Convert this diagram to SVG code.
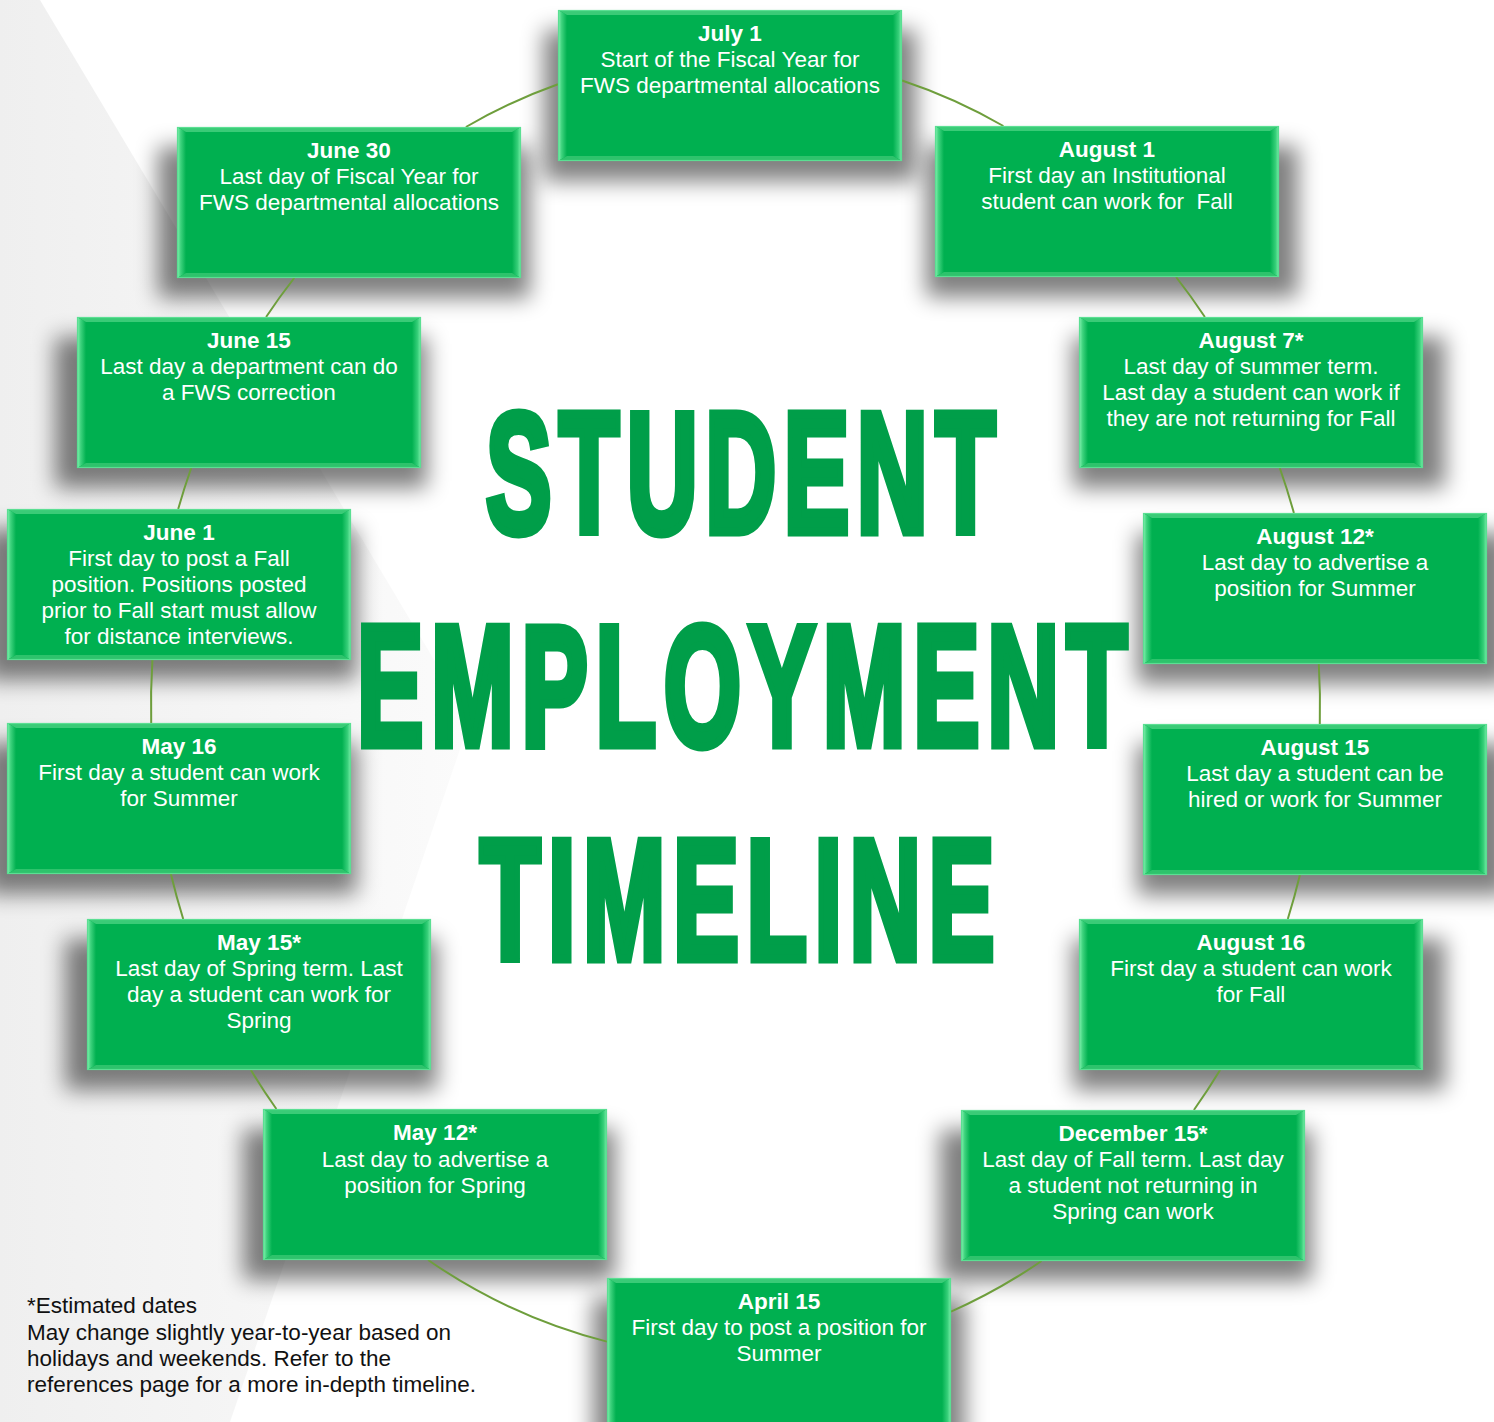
<svg xmlns="http://www.w3.org/2000/svg" xmlns:xlink="http://www.w3.org/1999/xlink" width="1494" height="1422" viewBox="0 0 1494 1422">
<style>
.tx{font-family:"Liberation Sans",Arial,sans-serif;font-size:22.5px;fill:#ffffff;text-anchor:middle}
.b{font-weight:bold}
.ttl{font-family:"Liberation Sans",Arial,sans-serif;font-weight:bold;font-size:170px;fill:#009E49;stroke:#009E49;stroke-width:9;stroke-linejoin:miter;letter-spacing:13px}
.ft{font-family:"Liberation Sans",Arial,sans-serif;font-size:22.5px;fill:#111111}
.sh{fill:#000000;opacity:0.5;filter:url(#blur)}
.cn{fill:none;stroke:#6E9E3C;stroke-width:2}
</style>
<defs>
<filter id="blur" x="-20%" y="-40%" width="140%" height="180%"><feGaussianBlur stdDeviation="11"/></filter>
<linearGradient id="gL" x1="0" y1="0" x2="1" y2="0"><stop offset="0" stop-color="#8AF5B5"/><stop offset="0.4" stop-color="#3FD37E"/><stop offset="1" stop-color="#00B050"/></linearGradient>
<linearGradient id="gR" x1="1" y1="0" x2="0" y2="0"><stop offset="0" stop-color="#7CEFAA"/><stop offset="0.4" stop-color="#35CE78"/><stop offset="1" stop-color="#00B050"/></linearGradient>
<linearGradient id="bg" x1="0" y1="0" x2="1" y2="0"><stop offset="0" stop-color="#efefef"/><stop offset="1" stop-color="#fbfbfb"/></linearGradient>
<g id="box">
<rect x="0" y="0" width="344" height="151" fill="#00B050"/>
<polygon points="0,0 9,5 9,146 0,151" fill="url(#gL)"/>
<polygon points="344,0 335,5 335,146 344,151" fill="url(#gR)"/>
<polygon points="0,0 344,0 335,5 9,5" fill="#3ACB77"/>
<polygon points="0,151 9,146 335,146 344,151" fill="#2EC36C"/>
<rect x="0.5" y="0.5" width="343" height="150" fill="none" stroke="#5BDF93" stroke-width="1.2"/>
</g>
</defs>
<rect x="0" y="0" width="1494" height="1422" fill="#ffffff"/>
<g id="background">
<polygon points="0,0 40,0 470,720 230,1422 0,1422" fill="url(#bg)"/>
</g>
<g id="shadows">
<rect class="sh" x="544" y="30" width="372" height="151"/>
<rect class="sh" x="158" y="147" width="372" height="151"/>
<rect class="sh" x="926" y="146" width="372" height="151"/>
<rect class="sh" x="55" y="337" width="372" height="151"/>
<rect class="sh" x="1073" y="337" width="372" height="151"/>
<rect class="sh" x="-15" y="529" width="372" height="151"/>
<rect class="sh" x="1137" y="533" width="372" height="151"/>
<rect class="sh" x="-15" y="743" width="372" height="151"/>
<rect class="sh" x="1137" y="744" width="372" height="151"/>
<rect class="sh" x="65" y="939" width="372" height="151"/>
<rect class="sh" x="1073" y="939" width="372" height="151"/>
<rect class="sh" x="243" y="1129" width="372" height="151"/>
<rect class="sh" x="940" y="1130" width="372" height="151"/>
<rect class="sh" x="593" y="1298" width="372" height="151"/>
</g>
<g id="title">
<text class="ttl" x="486" y="532" textLength="517" lengthAdjust="spacingAndGlyphs">STUDENT</text>
<text class="ttl" x="357" y="745" textLength="778" lengthAdjust="spacingAndGlyphs">EMPLOYMENT</text>
<text class="ttl" x="480" y="959" textLength="522" lengthAdjust="spacingAndGlyphs">TIMELINE</text>
</g>
<g id="connectors">
<path class="cn" d="M607,1341.6 A584.5 652 0 0 1 428.1,1260"/>
<path class="cn" d="M276.4,1109 A584.5 652 0 0 1 250.9,1070"/>
<path class="cn" d="M183.2,919 A584.5 652 0 0 1 170.9,874"/>
<path class="cn" d="M151.2,723 A584.5 652 0 0 1 152.4,660"/>
<path class="cn" d="M178.2,509 A584.5 652 0 0 1 191.2,468"/>
<path class="cn" d="M266.1,317 A584.5 652 0 0 1 294.2,278"/>
<path class="cn" d="M465.9,127 A584.5 652 0 0 1 558,84.3"/>
<path class="cn" d="M902,80.5 A584.5 652 0 0 1 1003.4,126"/>
<path class="cn" d="M1176.1,277 A584.5 652 0 0 1 1204.9,317"/>
<path class="cn" d="M1279.8,468 A584.5 652 0 0 1 1293.9,513"/>
<path class="cn" d="M1318.8,664 A584.5 652 0 0 1 1319.8,724"/>
<path class="cn" d="M1299.9,875 A584.5 652 0 0 1 1287.8,919"/>
<path class="cn" d="M1220.1,1070 A584.5 652 0 0 1 1193.9,1110"/>
<path class="cn" d="M1041.5,1261 A584.5 652 0 0 1 951,1311.6"/>
</g>
<g id="node-july1">
<use href="#box" x="558" y="10"/>
<text class="tx" x="730" y="41"><tspan class="b">July 1</tspan><tspan x="730" dy="26">Start of the Fiscal Year for</tspan><tspan x="730" dy="26">FWS departmental allocations</tspan></text>
</g>
<g id="node-june30">
<use href="#box" x="177" y="127"/>
<text class="tx" x="349" y="158"><tspan class="b">June 30</tspan><tspan x="349" dy="26">Last day of Fiscal Year for</tspan><tspan x="349" dy="26">FWS departmental allocations</tspan></text>
</g>
<g id="node-aug1">
<use href="#box" x="935" y="126"/>
<text class="tx" x="1107" y="157" xml:space="preserve"><tspan class="b">August 1</tspan><tspan x="1107" dy="26">First day an Institutional</tspan><tspan x="1107" dy="26">student can work for  Fall</tspan></text>
</g>
<g id="node-june15">
<use href="#box" x="77" y="317"/>
<text class="tx" x="249" y="348"><tspan class="b">June 15</tspan><tspan x="249" dy="26">Last day a department can do</tspan><tspan x="249" dy="26">a FWS correction</tspan></text>
</g>
<g id="node-aug7">
<use href="#box" x="1079" y="317"/>
<text class="tx" x="1251" y="348"><tspan class="b">August 7*</tspan><tspan x="1251" dy="26">Last day of summer term.</tspan><tspan x="1251" dy="26">Last day a student can work if</tspan><tspan x="1251" dy="26">they are not returning for Fall</tspan></text>
</g>
<g id="node-june1">
<use href="#box" x="7" y="509"/>
<text class="tx" x="179" y="540"><tspan class="b">June 1</tspan><tspan x="179" dy="26">First day to post a Fall</tspan><tspan x="179" dy="26">position. Positions posted</tspan><tspan x="179" dy="26">prior to Fall start must allow</tspan><tspan x="179" dy="26">for distance interviews.</tspan></text>
</g>
<g id="node-aug12">
<use href="#box" x="1143" y="513"/>
<text class="tx" x="1315" y="544"><tspan class="b">August 12*</tspan><tspan x="1315" dy="26">Last day to advertise a</tspan><tspan x="1315" dy="26">position for Summer</tspan></text>
</g>
<g id="node-may16">
<use href="#box" x="7" y="723"/>
<text class="tx" x="179" y="754"><tspan class="b">May 16</tspan><tspan x="179" dy="26">First day a student can work</tspan><tspan x="179" dy="26">for Summer</tspan></text>
</g>
<g id="node-aug15">
<use href="#box" x="1143" y="724"/>
<text class="tx" x="1315" y="755"><tspan class="b">August 15</tspan><tspan x="1315" dy="26">Last day a student can be</tspan><tspan x="1315" dy="26">hired or work for Summer</tspan></text>
</g>
<g id="node-may15">
<use href="#box" x="87" y="919"/>
<text class="tx" x="259" y="950"><tspan class="b">May 15*</tspan><tspan x="259" dy="26">Last day of Spring term. Last</tspan><tspan x="259" dy="26">day a student can work for</tspan><tspan x="259" dy="26">Spring</tspan></text>
</g>
<g id="node-aug16">
<use href="#box" x="1079" y="919"/>
<text class="tx" x="1251" y="950"><tspan class="b">August 16</tspan><tspan x="1251" dy="26">First day a student can work</tspan><tspan x="1251" dy="26">for Fall</tspan></text>
</g>
<g id="node-may12">
<use href="#box" x="263" y="1109"/>
<text class="tx" x="435" y="1140"><tspan class="b">May 12*</tspan><tspan x="435" dy="26.5">Last day to advertise a</tspan><tspan x="435" dy="26.5">position for Spring</tspan></text>
</g>
<g id="node-dec15">
<use href="#box" x="961" y="1110"/>
<text class="tx" x="1133" y="1141"><tspan class="b">December 15*</tspan><tspan x="1133" dy="26">Last day of Fall term. Last day</tspan><tspan x="1133" dy="26">a student not returning in</tspan><tspan x="1133" dy="26">Spring can work</tspan></text>
</g>
<g id="node-apr15">
<use href="#box" x="607" y="1278"/>
<text class="tx" x="779" y="1309"><tspan class="b">April 15</tspan><tspan x="779" dy="26">First day to post a position for</tspan><tspan x="779" dy="26">Summer</tspan></text>
</g>
<g id="footnote">
<text class="ft" x="27" y="1313">*Estimated dates</text>
<text class="ft" x="27" y="1340">May change slightly year-to-year based on</text>
<text class="ft" x="27" y="1366">holidays and weekends. Refer to the</text>
<text class="ft" x="27" y="1392">references page for a more in-depth timeline.</text>
</g>
</svg>
